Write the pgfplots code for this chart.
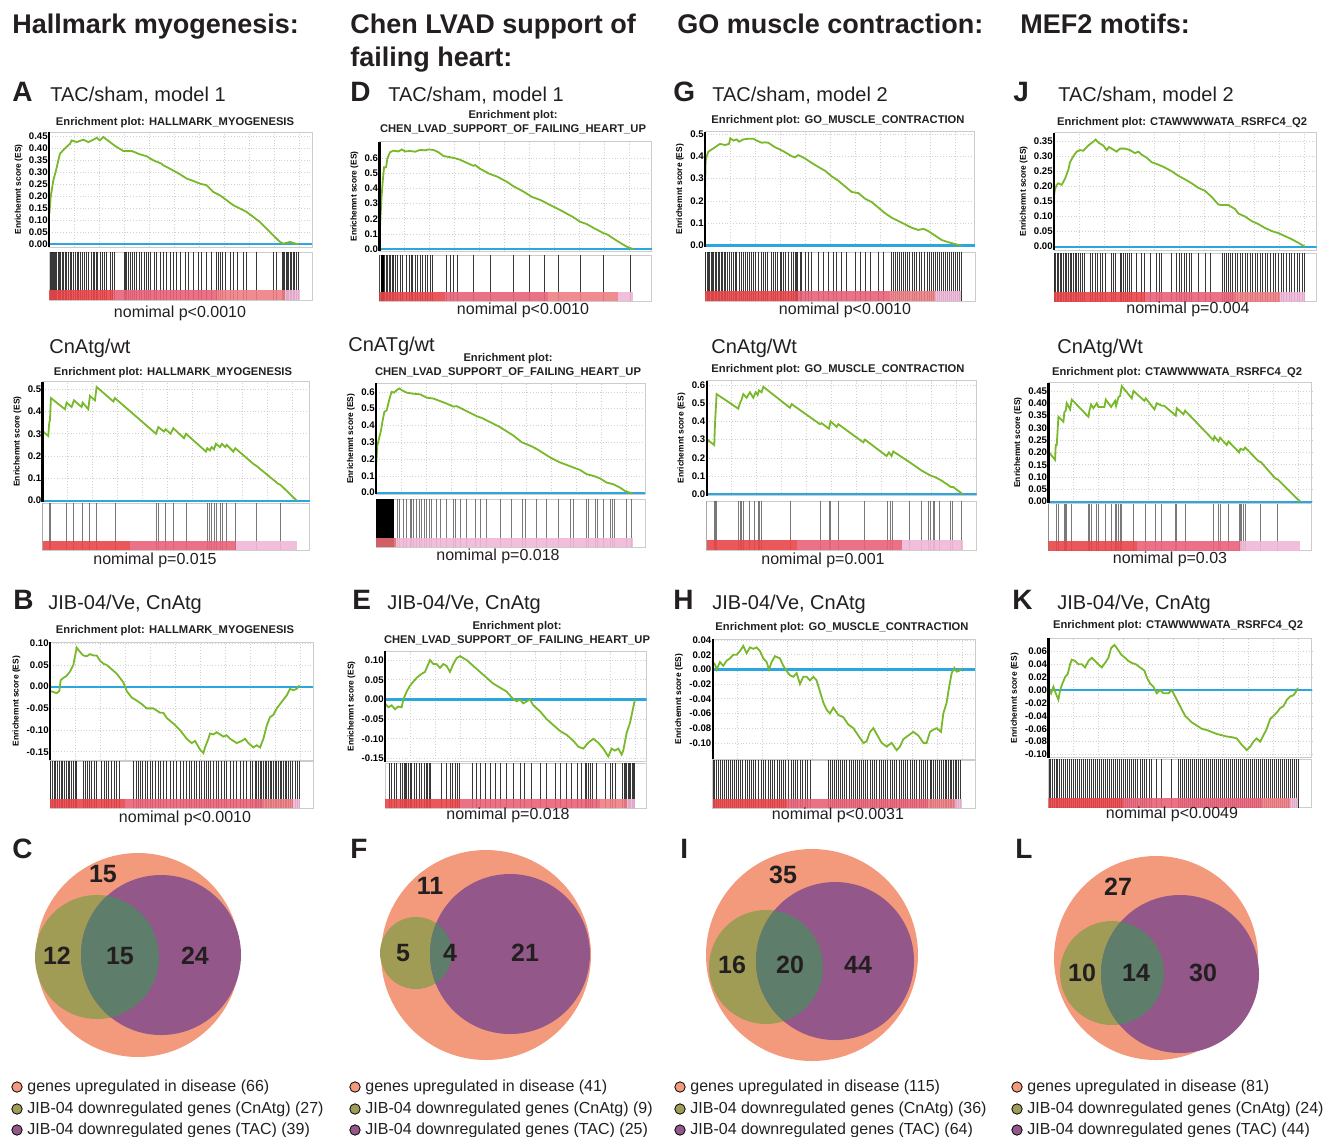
\documentclass[border=0pt]{standalone}
\usepackage{fontspec}
\setmainfont{Liberation Sans}
\usepackage{pgfplots}
\pgfplotsset{compat=1.18}
\definecolor{esgreen}{HTML}{78B82A}
\definecolor{esblue}{HTML}{2AA7E0}
\definecolor{gr1}{HTML}{E8464A}
\definecolor{gr1b}{HTML}{E86A70}
\definecolor{gr2}{HTML}{E9627A}
\definecolor{gr3}{HTML}{EE7E84}
\definecolor{gr4}{HTML}{F0B8D8}
\definecolor{vsal}{HTML}{F29A7B}
\definecolor{volive}{HTML}{A09C55}
\definecolor{vpurp}{HTML}{93578A}
\definecolor{vover}{HTML}{5F7D6B}
\definecolor{txt}{HTML}{231F20}
\newcommand\seg[3]{\addplot[fill=#3,draw=none,fill opacity=0.9] coordinates {(#1,0) (#2,0) (#2,0.2) (#1,0.2)} -- cycle;}
\newcommand\bars[1]{\addplot[ycomb,black,line width=0.45pt,opacity=0.78] table[x index=0,y expr=1,header=false,row sep=\\]{#1};}
\newcommand\lbars[1]{\addplot[ycomb,black!75,line width=0.45pt,opacity=0.7] table[x index=0,y expr=1,header=false,row sep=\\]{#1};}
\newcommand\kbars[1]{\addplot[ycomb,black,line width=0.55pt] table[x index=0,y expr=1,header=false,row sep=\\]{#1};}
\newcommand\zl[2]{\addplot[esblue,line width=1.1pt] coordinates {(#1,0) (#2,0)};}
\newcommand\lb{\draw[black,line width=1.1pt] (rel axis cs:0,0) -- (rel axis cs:0,1);}
\newcommand\fhdr{\fontsize{13.5}{14}\selectfont\bfseries}
\newcommand\flet{\fontsize{14}{14}\selectfont\bfseries}
\newcommand\fsub{\fontsize{10}{10}\selectfont}
\newcommand\fet{\fontsize{5.6}{7}\selectfont\bfseries}
\newcommand\fp{\fontsize{8}{8}\selectfont}
\newcommand\fven{\fontsize{12.5}{12.5}\selectfont\bfseries}
\pgfplotsset{
  esax/.style={scale only axis, anchor=north west, clip mode=individual,
    axis line style={black!20, line width=0.5pt},
    grid=major, major grid style={black!18, densely dotted, line width=0.3pt},
    xticklabels={}, major tick length=0pt,
    /pgf/number format/assume math mode=true,
    yticklabel style={font=\fontsize{4.8}{4.8}\selectfont\bfseries, inner sep=0.5pt,
      /pgf/number format/fixed, /pgf/number format/fixed zerofill},
    ylabel={Enrichemnt score (ES)}, ylabel shift=2.5pt,
    ylabel style={font=\fontsize{4.2}{4.2}\selectfont\bfseries, inner sep=0pt},
  },
  esline/.style={esgreen, line width=0.9pt},
  bcax/.style={scale only axis, anchor=north west, clip mode=individual,
    axis line style={black!20, line width=0.5pt}, xtick=\empty, ytick=\empty, ymin=0, ymax=1},
}
\begin{document}
\begin{tikzpicture}
\useasboundingbox (0,0) rectangle (663pt,-568pt);

% ================= Panel A =================
\begin{axis}[esax,at={(24.5pt,-66pt)},width=131.5pt,height=57.5pt,xmin=147,xmax=936,ymin=-0.011,ymax=0.468,
  xtick={147,222,...,936},ytick={0,0.05,0.1,0.15,0.2,0.25,0.3,0.35,0.4,0.45},yticklabel style={/pgf/number format/precision=2}]
\zl{147}{936}
\addplot[esline] coordinates {(148,0.128) (152,0.197) (160,0.267) (168,0.308) (175,0.35) (180,0.378) (195,0.40) (210,0.419) (215,0.433) (230,0.426) (250,0.436) (265,0.426) (280,0.436) (290,0.444) (300,0.433) (310,0.447) (330,0.426) (345,0.41) (370,0.389) (395,0.389) (420,0.375) (440,0.367) (460,0.35) (485,0.336) (490,0.329) (510,0.315) (540,0.292) (560,0.274) (580,0.264) (600,0.253) (620,0.246) (640,0.218) (660,0.204) (700,0.163) (730,0.142) (740,0.135) (780,0.093) (810,0.051) (840,0.01) (850,0.003) (870,0.01) (880,0.006) (895,0.0)};
\lb
\end{axis}
\begin{axis}[bcax,at={(24.5pt,-126pt)},width=131.5pt,height=24pt,xmin=147,xmax=936]
\bars{150\\153\\157\\160\\163\\167\\170\\174\\178\\182\\186\\190\\195\\199\\205\\210\\214\\219\\225\\231\\236\\240\\248\\253\\260\\266\\274\\279\\283\\288\\293\\300\\306\\312\\318\\330\\337\\344\\372\\376\\380\\385\\392\\398\\404\\410\\418\\424\\432\\440\\446\\452\\462\\470\\480\\490\\500\\512\\520\\530\\542\\555\\565\\580\\595\\605\\620\\635\\650\\655\\660\\668\\675\\690\\700\\712\\730\\740\\770\\820\\830\\846\\850\\854\\858\\862\\866\\870\\875\\880\\884\\890\\895\\}
\seg{147}{340}{gr1}\seg{340}{650}{gr2}\seg{650}{855}{gr3}\seg{855}{900}{gr4}
\end{axis}

% ================= Panel D =================
\begin{axis}[esax,at={(189.7pt,-70.8pt)},width=136.2pt,height=54.7pt,xmin=118,xmax=935,ymin=-0.013,ymax=0.71,
  xtick={118,193,...,935},ytick={0,0.1,0.2,0.3,0.4,0.5,0.6},yticklabel style={/pgf/number format/precision=1}]
\zl{118}{935}
\addplot[esline] coordinates {(118,0.07) (121,0.2) (124,0.33) (128,0.45) (132,0.54) (138,0.54) (142,0.6) (150,0.64) (160,0.65) (175,0.645) (185,0.658) (195,0.645) (210,0.648) (225,0.643) (240,0.655) (255,0.652) (265,0.658) (280,0.655) (295,0.64) (310,0.615) (330,0.607) (345,0.60) (360,0.59) (380,0.57) (400,0.55) (405,0.555) (420,0.53) (450,0.495) (470,0.48) (500,0.445) (520,0.415) (550,0.38) (575,0.345) (600,0.325) (640,0.28) (660,0.258) (700,0.21) (720,0.18) (740,0.165) (760,0.14) (790,0.105) (800,0.098) (830,0.055) (860,0.015) (875,0.003) (880,0.0)};
\lb
\end{axis}
\begin{axis}[bcax,at={(189.7pt,-127.5pt)},width=136.2pt,height=23pt,xmin=118,xmax=935]
\kbars{119\\123\\127\\130\\}
\bars{133\\138\\142\\147\\152\\157\\160\\166\\172\\180\\186\\200\\207\\213\\218\\225\\232\\240\\248\\256\\262\\270\\278\\320\\330\\340\\352\\400\\452\\520\\567\\612\\655\\722\\790\\870\\}
\seg{118}{315}{gr1}\seg{315}{625}{gr2}\seg{625}{835}{gr3}\seg{835}{880}{gr4}
\end{axis}

% ================= Panel G =================
\begin{axis}[esax,at={(352.5pt,-65.8pt)},width=135pt,height=57.5pt,xmin=120,xmax=930,ymin=-0.0045,ymax=0.51,
  xtick={120,195,...,930},ytick={0,0.1,0.2,0.3,0.4,0.5},yticklabel style={/pgf/number format/precision=1}]
\zl{120}{930}
\addplot[esline] coordinates {(120,0.25) (122,0.38) (125,0.40) (130,0.42) (140,0.43) (150,0.44) (165,0.455) (180,0.45) (192,0.455) (196,0.48) (205,0.47) (215,0.475) (222,0.465) (235,0.475) (250,0.478) (265,0.478) (275,0.47) (290,0.46) (300,0.462) (310,0.46) (330,0.44) (345,0.43) (360,0.418) (380,0.40) (390,0.395) (400,0.405) (420,0.39) (440,0.37) (460,0.352) (480,0.335) (500,0.31) (520,0.29) (540,0.265) (560,0.24) (580,0.235) (600,0.21) (620,0.195) (640,0.17) (660,0.145) (680,0.125) (700,0.11) (720,0.095) (740,0.08) (760,0.07) (775,0.075) (790,0.065) (810,0.045) (830,0.025) (850,0.015) (870,0.007) (888,0.0)};
\lb
\end{axis}
\begin{axis}[bcax,at={(352.5pt,-126.2pt)},width=135pt,height=24.3pt,xmin=120,xmax=930]
\bars{122\\126\\130\\134\\138\\142\\146\\150\\155\\160\\164\\168\\172\\177\\182\\188\\193\\198\\204\\210\\215\\222\\228\\234\\240\\246\\252\\258\\264\\270\\280\\290\\296\\302\\308\\318\\324\\332\\338\\345\\350\\356\\362\\370\\378\\385\\390\\393\\396\\405\\410\\420\\430\\440\\460\\475\\490\\505\\515\\530\\545\\570\\585\\600\\615\\640\\655\\680\\686\\692\\698\\704\\710\\716\\722\\728\\734\\742\\748\\755\\762\\770\\778\\786\\794\\800\\806\\812\\818\\824\\830\\836\\842\\848\\854\\860\\866\\872\\878\\884\\888\\}
\seg{120}{400}{gr1}\seg{400}{675}{gr2}\seg{675}{810}{gr3}\seg{810}{888}{gr4}
\end{axis}

% ================= Panel J =================
\begin{axis}[esax,at={(527pt,-66.3pt)},width=131.3pt,height=58.7pt,xmin=147,xmax=935,ymin=-0.011,ymax=0.378,
  xtick={147,222,...,935},ytick={0,0.05,0.1,0.15,0.2,0.25,0.3,0.35},yticklabel style={/pgf/number format/precision=2}]
\zl{147}{935}
\addplot[esline] coordinates {(147,0.17) (150,0.19) (155,0.205) (160,0.21) (170,0.205) (180,0.225) (190,0.255) (195,0.28) (205,0.30) (215,0.315) (225,0.32) (235,0.318) (245,0.33) (255,0.34) (265,0.348) (272,0.355) (280,0.345) (295,0.335) (305,0.32) (312,0.33) (320,0.325) (335,0.315) (345,0.325) (360,0.325) (375,0.32) (390,0.31) (400,0.315) (410,0.305) (425,0.295) (440,0.28) (460,0.272) (480,0.262) (500,0.25) (520,0.235) (540,0.223) (560,0.21) (580,0.195) (600,0.185) (620,0.165) (640,0.14) (650,0.138) (670,0.138) (690,0.125) (700,0.11) (720,0.10) (740,0.085) (760,0.075) (780,0.062) (800,0.052) (820,0.045) (840,0.035) (860,0.025) (880,0.013) (900,0.0)};
\lb
\end{axis}
\begin{axis}[bcax,at={(527pt,-126.7pt)},width=131.3pt,height=24.2pt,xmin=147,xmax=935]
\bars{148\\152\\156\\160\\165\\170\\175\\180\\185\\190\\195\\200\\205\\210\\215\\220\\226\\232\\238\\255\\262\\270\\278\\285\\292\\300\\318\\325\\332\\345\\350\\355\\360\\366\\372\\378\\395\\410\\418\\435\\455\\462\\470\\500\\515\\522\\530\\538\\545\\552\\560\\580\\600\\615\\652\\658\\664\\670\\676\\682\\690\\698\\705\\712\\720\\728\\735\\742\\750\\758\\765\\772\\780\\788\\796\\804\\812\\820\\828\\836\\844\\852\\860\\868\\876\\884\\892\\898\\}
\seg{147}{420}{gr1}\seg{420}{690}{gr2}\seg{690}{825}{gr3}\seg{825}{900}{gr4}
\end{axis}

% ================= Panel A2 =================
\begin{axis}[esax,at={(21.3pt,-190.8pt)},width=133.7pt,height=60pt,xmin=128,xmax=930,ymin=-0.0045,ymax=0.534,
  xtick={128,203,...,930},ytick={0,0.1,0.2,0.3,0.4,0.5},yticklabel style={/pgf/number format/precision=1}]
\zl{128}{930}
\addplot[esline] coordinates {(128,0.19) (129,0.31) (145,0.29) (148,0.35) (150,0.36) (153,0.46) (195,0.41) (200,0.44) (215,0.42) (222,0.45) (245,0.42) (248,0.44) (265,0.41) (270,0.47) (285,0.45) (290,0.51) (340,0.445) (345,0.46) (468,0.30) (475,0.33) (492,0.31) (497,0.32) (512,0.30) (520,0.325) (552,0.28) (558,0.30) (618,0.22) (622,0.235) (630,0.225) (635,0.24) (642,0.23) (648,0.255) (660,0.24) (666,0.255) (676,0.24) (680,0.25) (700,0.22) (706,0.235) (760,0.165) (770,0.155) (835,0.075) (842,0.07) (890,0.0)};
\lb
\end{axis}
\begin{axis}[bcax,at={(21.3pt,-251.7pt)},width=133.7pt,height=23.3pt,xmin=128,xmax=930]
\lbars{128\\150\\153\\200\\222\\248\\270\\290\\345\\470\\475\\497\\520\\558\\622\\628\\635\\642\\648\\660\\666\\680\\706\\770\\842\\}
\seg{128}{390}{gr1}\seg{390}{708}{gr2}\seg{708}{890}{gr4}
\end{axis}

% ================= Panel D2 =================
\begin{axis}[esax,at={(188pt,-191.7pt)},width=134.5pt,height=55.3pt,xmin=108,xmax=915,ymin=-0.008,ymax=0.65,
  xtick={108,183,...,915},ytick={0,0.1,0.2,0.3,0.4,0.5,0.6},yticklabel style={/pgf/number format/precision=1}]
\zl{108}{915}
\addplot[esline] coordinates {(108,0.15) (112,0.28) (118,0.33) (123,0.37) (128,0.43) (133,0.48) (140,0.49) (145,0.53) (150,0.57) (155,0.6) (162,0.595) (170,0.61) (178,0.62) (185,0.61) (200,0.595) (215,0.59) (240,0.585) (260,0.565) (280,0.56) (300,0.545) (320,0.53) (340,0.512) (350,0.515) (370,0.495) (390,0.475) (410,0.455) (425,0.445) (440,0.43) (460,0.41) (480,0.39) (500,0.365) (520,0.34) (545,0.30) (570,0.28) (590,0.26) (610,0.235) (630,0.21) (660,0.18) (680,0.165) (700,0.15) (720,0.135) (740,0.11) (760,0.10) (780,0.085) (800,0.06) (820,0.05) (840,0.03) (855,0.01) (870,0.0) (878,-0.002)};
\lb
\end{axis}
\begin{axis}[bcax,at={(188pt,-249.7pt)},width=134.5pt,height=24pt,xmin=108,xmax=915]
\kbars{109\\114\\119\\123\\127\\132\\137\\141\\146\\150\\155\\159\\}
\lbars{172\\178\\190\\200\\210\\215\\220\\230\\238\\245\\252\\258\\268\\275\\290\\300\\318\\340\\345\\362\\380\\405\\420\\440\\480\\515\\548\\555\\590\\620\\655\\690\\700\\738\\745\\765\\772\\790\\810\\818\\822\\860\\873\\}
\seg{108}{168}{gr1b}\seg{168}{878}{gr4}
\end{axis}

% ================= Panel G2 =================
\begin{axis}[esax,at={(353.3pt,-190.3pt)},width=135pt,height=57.5pt,xmin=125,xmax=935,ymin=-0.0073,ymax=0.624,
  xtick={125,200,...,935},ytick={0,0.1,0.2,0.3,0.4,0.5,0.6},yticklabel style={/pgf/number format/precision=1}]
\zl{125}{935}
\addplot[esline] coordinates {(125,0.20) (127,0.30) (148,0.27) (150,0.38) (155,0.55) (220,0.47) (225,0.50) (230,0.52) (235,0.55) (245,0.53) (255,0.56) (265,0.53) (272,0.56) (278,0.545) (282,0.57) (290,0.56) (295,0.59) (375,0.475) (380,0.495) (465,0.385) (470,0.39) (492,0.36) (497,0.40) (515,0.37) (520,0.385) (595,0.285) (600,0.30) (665,0.21) (672,0.23) (680,0.21) (685,0.235) (735,0.175) (770,0.13) (790,0.11) (800,0.10) (810,0.095) (830,0.075) (858,0.04) (865,0.04) (890,0.005) (893,0.0)};
\lb
\end{axis}
\begin{axis}[bcax,at={(353.3pt,-250.5pt)},width=135pt,height=24.5pt,xmin=125,xmax=935]
\lbars{125\\150\\153\\155\\222\\226\\230\\236\\255\\270\\280\\284\\290\\378\\467\\493\\497\\520\\598\\668\\678\\683\\735\\770\\790\\798\\806\\810\\825\\858\\864\\890\\}
\seg{125}{395}{gr1}\seg{395}{710}{gr2}\seg{710}{893}{gr4}
\end{axis}

% ================= Panel J2 =================
\begin{axis}[esax,at={(524.2pt,-191.3pt)},width=131.7pt,height=60pt,xmin=130,xmax=920,ymin=-0.004,ymax=0.484,
  xtick={130,205,...,920},ytick={0,0.05,0.1,0.15,0.2,0.25,0.3,0.35,0.4,0.45},yticklabel style={/pgf/number format/precision=2}]
\zl{130}{920}
\addplot[esline] coordinates {(130,0.18) (132,0.20) (150,0.17) (152,0.23) (155,0.23) (160,0.345) (175,0.325) (178,0.365) (182,0.37) (185,0.40) (195,0.375) (200,0.415) (250,0.345) (253,0.37) (258,0.395) (265,0.38) (275,0.40) (280,0.385) (298,0.385) (302,0.415) (318,0.385) (330,0.41) (333,0.39) (340,0.425) (345,0.43) (350,0.47) (380,0.42) (385,0.45) (418,0.41) (422,0.42) (448,0.375) (455,0.4) (470,0.39) (477,0.39) (512,0.35) (515,0.38) (535,0.355) (540,0.37) (625,0.25) (628,0.265) (640,0.245) (645,0.26) (665,0.23) (670,0.245) (702,0.20) (706,0.215) (715,0.21) (720,0.22) (760,0.165) (768,0.16) (810,0.095) (818,0.09) (885,0.0)};
\lb
\end{axis}
\begin{axis}[bcax,at={(524.2pt,-251.8pt)},width=131.7pt,height=23.5pt,xmin=130,xmax=920]
\lbars{130\\155\\160\\178\\182\\185\\200\\250\\253\\258\\275\\280\\300\\302\\318\\330\\333\\340\\345\\350\\385\\420\\452\\470\\512\\515\\540\\625\\640\\645\\670\\702\\706\\710\\715\\720\\765\\818\\}
\seg{130}{395}{gr1}\seg{395}{705}{gr2}\seg{705}{885}{gr4}
\end{axis}

% ================= Panel B =================
\begin{axis}[esax,at={(25pt,-321.2pt)},width=131.7pt,height=58.8pt,xmin=150,xmax=940,ymin=-0.169,ymax=0.102,
  xtick={150,225,...,940},ytick={-0.15,-0.1,-0.05,0,0.05,0.1},yticklabel style={/pgf/number format/precision=2}]
\zl{150}{940}
\addplot[esline] coordinates {(150,-0.01) (160,-0.012) (170,-0.015) (178,-0.01) (182,0.015) (190,0.02) (200,0.025) (210,0.035) (220,0.05) (225,0.07) (230,0.09) (240,0.08) (250,0.072) (260,0.07) (270,0.075) (280,0.072) (290,0.072) (300,0.06) (310,0.053) (320,0.05) (335,0.04) (350,0.03) (360,0.02) (370,0.01) (380,-0.01) (395,-0.025) (410,-0.032) (425,-0.04) (440,-0.05) (460,-0.05) (470,-0.055) (480,-0.06) (490,-0.06) (500,-0.072) (520,-0.085) (540,-0.1) (560,-0.12) (575,-0.13) (585,-0.125) (600,-0.145) (610,-0.153) (615,-0.14) (625,-0.12) (630,-0.108) (640,-0.11) (650,-0.105) (660,-0.11) (670,-0.115) (680,-0.112) (690,-0.12) (700,-0.125) (710,-0.13) (725,-0.125) (735,-0.12) (745,-0.13) (760,-0.14) (770,-0.135) (780,-0.14) (790,-0.12) (800,-0.09) (810,-0.07) (820,-0.065) (830,-0.05) (840,-0.04) (850,-0.03) (860,-0.02) (870,-0.005) (880,-0.008) (890,-0.005) (895,0.0) (898,0.003)};
\lb
\end{axis}
\begin{axis}[bcax,at={(25pt,-380.5pt)},width=131.7pt,height=23.7pt,xmin=150,xmax=940]
\bars{152\\157\\162\\167\\172\\177\\183\\188\\193\\198\\204\\209\\214\\219\\225\\230\\250\\256\\262\\268\\275\\282\\288\\305\\312\\318\\326\\333\\342\\350\\358\\400\\408\\414\\420\\428\\435\\442\\450\\458\\466\\474\\482\\490\\500\\510\\520\\530\\540\\550\\560\\568\\575\\582\\590\\598\\605\\612\\618\\625\\632\\640\\648\\655\\665\\672\\680\\690\\700\\710\\720\\730\\740\\750\\758\\765\\770\\775\\780\\785\\790\\795\\800\\805\\810\\815\\820\\825\\830\\835\\840\\845\\850\\855\\860\\865\\870\\878\\885\\892\\898\\}
\seg{150}{375}{gr1}\seg{375}{790}{gr2}\seg{790}{880}{gr3}\seg{880}{900}{gr4}
\end{axis}

% ================= Panel E =================
\begin{axis}[esax,at={(192.5pt,-325.5pt)},width=130.8pt,height=55.3pt,xmin=135,xmax=920,ymin=-0.158,ymax=0.123,
  xtick={135,210,...,920},ytick={-0.15,-0.1,-0.05,0,0.05,0.1},yticklabel style={/pgf/number format/precision=2}]
\zl{135}{920}
\addplot[esline] coordinates {(135,-0.01) (145,-0.02) (155,-0.015) (165,-0.025) (175,-0.018) (185,-0.02) (190,0.0) (200,0.02) (210,0.035) (220,0.045) (230,0.055) (245,0.065) (255,0.07) (260,0.08) (270,0.10) (280,0.09) (290,0.09) (300,0.08) (310,0.09) (320,0.085) (330,0.07) (340,0.09) (350,0.105) (360,0.11) (370,0.105) (380,0.10) (400,0.085) (420,0.07) (440,0.055) (460,0.04) (480,0.03) (500,0.02) (515,0.005) (530,-0.005) (540,0.0) (550,-0.01) (560,-0.005) (570,0.0) (580,-0.015) (600,-0.03) (620,-0.05) (640,-0.065) (660,-0.08) (680,-0.09) (700,-0.105) (715,-0.12) (730,-0.125) (745,-0.11) (760,-0.10) (775,-0.11) (790,-0.125) (805,-0.145) (815,-0.125) (825,-0.13) (835,-0.125) (845,-0.14) (850,-0.13) (860,-0.085) (870,-0.06) (875,-0.04) (880,-0.02) (885,0.0)};
\lb
\end{axis}
\begin{axis}[bcax,at={(192.5pt,-381.7pt)},width=130.8pt,height=22.5pt,xmin=135,xmax=920]
\bars{148\\155\\162\\168\\180\\188\\192\\196\\200\\205\\210\\215\\222\\230\\238\\245\\252\\258\\262\\268\\272\\305\\318\\332\\338\\345\\352\\358\\398\\408\\420\\435\\450\\465\\480\\500\\520\\542\\552\\575\\600\\620\\645\\660\\680\\695\\712\\725\\735\\740\\745\\752\\758\\770\\795\\810\\818\\825\\848\\852\\856\\860\\864\\868\\872\\876\\880\\884\\}
\seg{135}{360}{gr1}\seg{360}{780}{gr2}\seg{780}{860}{gr3}\seg{860}{885}{gr4}
\end{axis}

% ================= Panel H =================
\begin{axis}[esax,at={(356.3pt,-319.5pt)},width=131.2pt,height=60pt,xmin=143,xmax=930,ymin=-0.122,ymax=0.0414,
  xtick={143,218,...,930},ytick={-0.1,-0.08,-0.06,-0.04,-0.02,0,0.02,0.04},yticklabel style={/pgf/number format/precision=2}]
\zl{143}{930}
\addplot[esline] coordinates {(143,0.01) (150,0.007) (155,0.0) (165,0.01) (175,0.005) (185,0.012) (195,0.015) (205,0.02) (215,0.02) (225,0.025) (235,0.032) (245,0.022) (255,0.03) (265,0.028) (275,0.03) (285,0.025) (295,0.015) (305,0.01) (312,0.0) (320,0.01) (330,0.018) (345,0.015) (355,0.005) (365,-0.002) (375,-0.008) (385,-0.01) (395,-0.005) (405,-0.02) (415,-0.01) (425,-0.01) (435,-0.015) (445,-0.01) (455,-0.015) (465,-0.03) (475,-0.045) (485,-0.055) (495,-0.06) (505,-0.052) (520,-0.062) (535,-0.065) (550,-0.075) (565,-0.08) (580,-0.09) (595,-0.1) (605,-0.098) (615,-0.085) (625,-0.08) (635,-0.088) (650,-0.1) (665,-0.105) (680,-0.1) (695,-0.11) (705,-0.105) (715,-0.095) (730,-0.09) (745,-0.085) (760,-0.09) (775,-0.1) (785,-0.1) (795,-0.085) (805,-0.082) (815,-0.08) (828,-0.085) (835,-0.06) (845,-0.045) (852,-0.025) (860,-0.005) (868,0.002) (875,-0.003) (882,-0.002) (888,0.001)};
\lb
\end{axis}
\begin{axis}[bcax,at={(356.3pt,-380pt)},width=131.2pt,height=24.2pt,xmin=143,xmax=930]
\bars{145\\150\\156\\162\\167\\172\\178\\184\\190\\196\\202\\208\\214\\220\\226\\232\\240\\246\\252\\258\\266\\272\\280\\288\\295\\302\\310\\316\\322\\328\\336\\342\\350\\356\\362\\370\\378\\386\\392\\398\\405\\412\\420\\428\\436\\490\\496\\502\\508\\514\\520\\526\\532\\538\\545\\552\\558\\564\\570\\577\\584\\590\\596\\602\\608\\615\\622\\628\\635\\642\\648\\655\\662\\668\\675\\682\\688\\695\\702\\708\\715\\722\\728\\735\\742\\748\\755\\762\\768\\775\\782\\788\\795\\800\\806\\812\\818\\824\\830\\835\\840\\845\\850\\855\\860\\865\\870\\875\\880\\886\\}
\seg{143}{365}{gr1}\seg{365}{790}{gr2}\seg{790}{870}{gr3}\seg{870}{890}{gr4}
\end{axis}

% ================= Panel K =================
\begin{axis}[esax,at={(524.2pt,-319.2pt)},width=131.7pt,height=59.7pt,xmin=130,xmax=920,ymin=-0.105,ymax=0.08,
  xtick={130,205,...,920},ytick={-0.1,-0.08,-0.06,-0.04,-0.02,0,0.02,0.04,0.06},yticklabel style={/pgf/number format/precision=2}]
\zl{130}{920}
\addplot[esline] coordinates {(130,0.005) (138,-0.005) (145,0.005) (152,-0.005) (160,-0.015) (165,0.0) (172,0.01) (180,0.02) (188,0.025) (195,0.04) (200,0.047) (210,0.045) (220,0.04) (230,0.04) (240,0.035) (250,0.045) (260,0.05) (270,0.045) (280,0.04) (290,0.035) (300,0.042) (310,0.05) (318,0.065) (328,0.07) (338,0.063) (348,0.055) (360,0.05) (370,0.045) (380,0.042) (392,0.04) (405,0.035) (418,0.03) (425,0.02) (435,0.01) (445,0.005) (455,-0.005) (465,0.0) (475,-0.005) (490,-0.005) (500,0.0) (510,-0.01) (520,-0.02) (530,-0.03) (540,-0.04) (550,-0.045) (560,-0.05) (575,-0.055) (590,-0.06) (605,-0.062) (620,-0.065) (635,-0.068) (650,-0.07) (665,-0.072) (680,-0.073) (695,-0.075) (710,-0.085) (725,-0.093) (735,-0.088) (745,-0.08) (755,-0.075) (765,-0.08) (775,-0.07) (785,-0.06) (795,-0.045) (805,-0.04) (815,-0.035) (825,-0.028) (835,-0.025) (845,-0.015) (855,-0.01) (865,-0.008) (872,-0.003) (878,0.003)};
\lb
\end{axis}
\begin{axis}[bcax,at={(524.2pt,-379.5pt)},width=131.7pt,height=24.3pt,xmin=130,xmax=920]
\bars{132\\137\\142\\148\\153\\158\\164\\170\\176\\182\\188\\194\\200\\206\\212\\218\\224\\230\\236\\242\\248\\254\\260\\266\\272\\278\\284\\290\\296\\302\\308\\314\\320\\326\\332\\338\\344\\350\\356\\362\\368\\374\\380\\386\\392\\398\\405\\412\\418\\425\\432\\440\\455\\470\\500\\520\\526\\532\\538\\544\\550\\556\\562\\568\\574\\580\\586\\592\\598\\604\\610\\616\\622\\628\\634\\640\\646\\652\\658\\664\\670\\676\\682\\688\\694\\700\\706\\712\\718\\724\\730\\736\\742\\748\\754\\760\\766\\772\\778\\784\\790\\796\\802\\808\\814\\820\\826\\832\\838\\844\\850\\856\\862\\868\\874\\879\\}
\seg{130}{355}{gr1}\seg{355}{770}{gr2}\seg{770}{855}{gr3}\seg{855}{880}{gr4}
\end{axis}

% ================= Venn diagrams and legend =================
\begin{axis}[scale only axis,anchor=north west,at={(0pt,-420pt)},width=663pt,height=148pt,
  xmin=0,xmax=1326,ymin=-1136,ymax=-840,hide axis,clip=false]
% C
\fill[vsal] (axis cs:138,-955) circle[radius=51pt];
\fill[volive] (axis cs:97,-957) circle[radius=31pt];
\fill[vpurp] (axis cs:161,-955) circle[radius=40pt];
\begin{scope}\clip (axis cs:97,-957) circle[radius=31pt]; \fill[vover] (axis cs:161,-955) circle[radius=40pt];\end{scope}
% F
\fill[vsal] (axis cs:486,-955) circle[radius=52.5pt];
\fill[volive] (axis cs:416,-953) circle[radius=18pt];
\fill[vpurp] (axis cs:510,-954) circle[radius=40pt];
\begin{scope}\clip (axis cs:416,-953) circle[radius=18pt]; \fill[vover] (axis cs:510,-954) circle[radius=40pt];\end{scope}
% I
\fill[vsal] (axis cs:812,-955) circle[radius=53pt];
\fill[volive] (axis cs:766,-967) circle[radius=28.5pt];
\fill[vpurp] (axis cs:835,-961) circle[radius=39.5pt];
\begin{scope}\clip (axis cs:766,-967) circle[radius=28.5pt]; \fill[vover] (axis cs:835,-961) circle[radius=39.5pt];\end{scope}
% L
\fill[vsal] (axis cs:1156,-958) circle[radius=51pt];
\fill[volive] (axis cs:1112,-973) circle[radius=26pt];
\fill[vpurp] (axis cs:1180,-974) circle[radius=39.5pt];
\begin{scope}\clip (axis cs:1112,-973) circle[radius=26pt]; \fill[vover] (axis cs:1180,-974) circle[radius=39.5pt];\end{scope}
% legend markers
\addplot[only marks,mark=*,mark size=2.6pt,mark options={fill=vsal,draw=none}] coordinates {(17,-1087) (355,-1087) (680,-1087) (1017,-1087)};
\addplot[only marks,mark=*,mark size=2.6pt,mark options={fill=volive,draw=none}] coordinates {(17,-1109) (355,-1109) (680,-1109) (1017,-1109)};
\addplot[only marks,mark=*,mark size=2.6pt,mark options={fill=vpurp,draw=none}] coordinates {(17,-1130) (355,-1130) (680,-1130) (1017,-1130)};
\end{axis}

% ================= Texts =================
\begin{scope}[x=0.5pt,y=-0.5pt,every node/.style={inner sep=0pt,text=txt}]
\node[anchor=base west,font=\fhdr] at (12,33) {Hallmark myogenesis:};
\node[anchor=base west,font=\fhdr] at (350,33) {Chen LVAD support of};
\node[anchor=base west,font=\fhdr] at (350,66) {failing heart:};
\node[anchor=base west,font=\fhdr] at (677,33) {GO muscle contraction:};
\node[anchor=base west,font=\fhdr] at (1020,33) {MEF2 motifs:};
% letters
\node[anchor=base west,font=\flet] at (12,101) {A};
\node[anchor=base west,font=\flet] at (350,101) {D};
\node[anchor=base west,font=\flet] at (673,101) {G};
\node[anchor=base west,font=\flet] at (1013,101) {J};
\node[anchor=base west,font=\flet] at (13,609) {B};
\node[anchor=base west,font=\flet] at (352,609) {E};
\node[anchor=base west,font=\flet] at (673,609) {H};
\node[anchor=base west,font=\flet] at (1012,609) {K};
\node[anchor=base west,font=\flet] at (12,858) {C};
\node[anchor=base west,font=\flet] at (350,858) {F};
\node[anchor=base west,font=\flet] at (680,858) {I};
\node[anchor=base west,font=\flet] at (1015,858) {L};
% subtitles
\node[anchor=base west,font=\fsub] at (50,101) {TAC/sham, model 1};
\node[anchor=base west,font=\fsub] at (388,101) {TAC/sham, model 1};
\node[anchor=base west,font=\fsub] at (712,101) {TAC/sham, model 2};
\node[anchor=base west,font=\fsub] at (1058,101) {TAC/sham, model 2};
\node[anchor=base west,font=\fsub] at (49,353) {CnAtg/wt};
\node[anchor=base west,font=\fsub] at (348,351) {CnATg/wt};
\node[anchor=base west,font=\fsub] at (711,353) {CnAtg/Wt};
\node[anchor=base west,font=\fsub] at (1057,353) {CnAtg/Wt};
\node[anchor=base west,font=\fsub] at (48,609) {JIB-04/Ve, CnAtg};
\node[anchor=base west,font=\fsub] at (387,609) {JIB-04/Ve, CnAtg};
\node[anchor=base west,font=\fsub] at (712,609) {JIB-04/Ve, CnAtg};
\node[anchor=base west,font=\fsub] at (1057,609) {JIB-04/Ve, CnAtg};
% enrichment titles
\node[font=\fet] at (175,123) {Enrichment plot: HALLMARK\_MYOGENESIS};
\node[font=\fet,align=center] at (513,122) {Enrichment plot:\\CHEN\_LVAD\_SUPPORT\_OF\_FAILING\_HEART\_UP};
\node[font=\fet] at (838,121) {Enrichment plot: GO\_MUSCLE\_CONTRACTION};
\node[font=\fet] at (1182,123) {Enrichment plot: CTAWWWWATA\_RSRFC4\_Q2};
\node[font=\fet] at (173,373) {Enrichment plot: HALLMARK\_MYOGENESIS};
\node[font=\fet,align=center] at (508,365) {Enrichment plot:\\CHEN\_LVAD\_SUPPORT\_OF\_FAILING\_HEART\_UP};
\node[font=\fet] at (838,370) {Enrichment plot: GO\_MUSCLE\_CONTRACTION};
\node[font=\fet] at (1177,373) {Enrichment plot: CTAWWWWATA\_RSRFC4\_Q2};
\node[font=\fet] at (175,631) {Enrichment plot: HALLMARK\_MYOGENESIS};
\node[font=\fet,align=center] at (517,633) {Enrichment plot:\\CHEN\_LVAD\_SUPPORT\_OF\_FAILING\_HEART\_UP};
\node[font=\fet] at (842,628) {Enrichment plot: GO\_MUSCLE\_CONTRACTION};
\node[font=\fet] at (1178,626) {Enrichment plot: CTAWWWWATA\_RSRFC4\_Q2};
% p values
\node[font=\fp] at (180,313) {nomimal p<0.0010};
\node[font=\fp] at (523,310) {nomimal p<0.0010};
\node[font=\fp] at (845,310) {nomimal p<0.0010};
\node[font=\fp] at (1188,309) {nomimal p=0.004};
\node[font=\fp] at (155,560) {nomimal p=0.015};
\node[font=\fp] at (498,556) {nomimal p=0.018};
\node[font=\fp] at (823,560) {nomimal p=0.001};
\node[font=\fp] at (1170,559) {nomimal p=0.03};
\node[font=\fp] at (185,818) {nomimal p<0.0010};
\node[font=\fp] at (508,815) {nomimal p=0.018};
\node[font=\fp] at (838,815) {nomimal p<0.0031};
\node[font=\fp] at (1172,814) {nomimal p<0.0049};
% Venn numbers
\node[font=\fven] at (103,874) {15};
\node[font=\fven] at (57,956) {12};
\node[font=\fven] at (120,956) {15};
\node[font=\fven] at (195,956) {24};
\node[font=\fven] at (430,886) {11};
\node[font=\fven] at (403,953) {5};
\node[font=\fven] at (450,953) {4};
\node[font=\fven] at (525,953) {21};
\node[font=\fven] at (783,875) {35};
\node[font=\fven] at (732,965) {16};
\node[font=\fven] at (790,965) {20};
\node[font=\fven] at (858,965) {44};
\node[font=\fven] at (1118,887) {27};
\node[font=\fven] at (1082,973) {10};
\node[font=\fven] at (1136,973) {14};
\node[font=\fven] at (1203,973) {30};
% legends
\foreach \xx/\a/\b/\c in {27/66/27/39, 365/41/9/25, 690/115/36/64, 1027/81/24/44}{
  \node[anchor=base west,font=\fp] at (\xx,1091) {genes upregulated in disease (\a)};
  \node[anchor=base west,font=\fp] at (\xx,1113) {JIB-04 downregulated genes (CnAtg) (\b)};
  \node[anchor=base west,font=\fp] at (\xx,1134) {JIB-04 downregulated genes (TAC) (\c)};
}
\end{scope}
\end{tikzpicture}
\end{document}
